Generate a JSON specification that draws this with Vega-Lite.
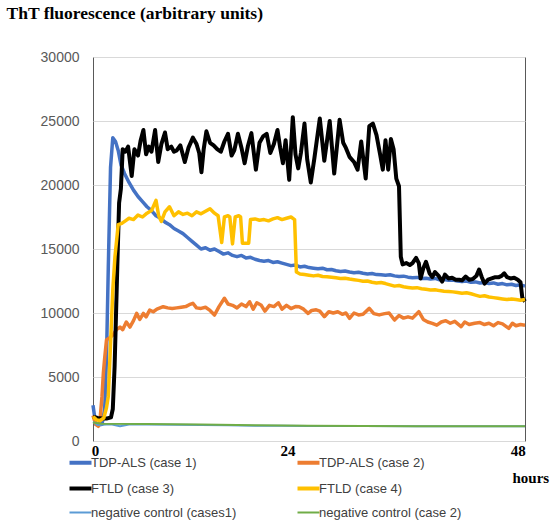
{
  "$schema": "https://vega.github.io/schema/vega-lite/v6.json",
  "width": 432,
  "height": 384,
  "autosize": "none",
  "padding": {"left": 93, "top": 57, "right": 25, "bottom": 90},
  "background": "white",
  "config": {
    "view": {"stroke": "#595959", "strokeWidth": 1},
    "legend": {
      "orient": "none",
      "direction": "horizontal",
      "legendX": -19,
      "legendY": 399,
      "columns": 2,
      "columnPadding": 52,
      "rowPadding": 9,
      "padding": 0,
      "symbolType": "stroke",
      "symbolSize": 484,
      "symbolStrokeWidth": 4,
      "labelFont": "Liberation Sans",
      "labelFontSize": 13,
      "labelColor": "#404040",
      "labelOffset": 4,
      "labelLimit": 300
    }
  },
  "encoding": {
    "x": {
      "field": "t",
      "type": "quantitative",
      "scale": {"domain": [0, 48], "nice": false, "zero": false},
      "axis": {
        "values": [0.22, 21.6, 47.2],
        "labelExpr": "datum.value < 10 ? '0' : datum.value < 30 ? '24' : '48'",
        "grid": false,
        "domain": false,
        "ticks": false,
        "labelFlush": false,
        "labelPadding": 2,
        "labelFont": "Liberation Serif",
        "labelFontWeight": "bold",
        "labelFontSize": 15,
        "labelColor": "black",
        "title": "hours",
        "titleFont": "Liberation Serif",
        "titleFontWeight": "bold",
        "titleFontSize": 15,
        "titleColor": "black",
        "titleX": 419,
        "titleY": 36,
        "titleAlign": "left",
        "titleBaseline": "middle"
      }
    },
    "y": {
      "field": "v",
      "type": "quantitative",
      "scale": {"domain": [0, 30000], "nice": false},
      "axis": {
        "values": [0, 5000, 10000, 15000, 20000, 25000, 30000],
        "format": "d",
        "grid": true,
        "gridColor": "#D9D9D9",
        "gridWidth": 1,
        "domain": false,
        "ticks": false,
        "labelPadding": 14,
        "labelFont": "Liberation Sans",
        "labelFontSize": 14,
        "labelColor": "#595959",
        "title": "ThT fluorescence (arbitrary units)",
        "titleFont": "Liberation Serif",
        "titleFontWeight": "bold",
        "titleFontSize": 17.5,
        "titleColor": "black",
        "titleAngle": 0,
        "titleX": -87,
        "titleY": -44,
        "titleAlign": "left",
        "titleBaseline": "middle"
      }
    }
  },
  "layer": [
    {
      "data": {"values": [
        {"t":0,"v":2800},{"t":0.3,"v":1300},{"t":0.6,"v":1250},{"t":1.0,"v":1300},{"t":1.3,"v":2500},{"t":1.5,"v":6500},{"t":1.7,"v":13600},{"t":1.95,"v":21400},{"t":2.2,"v":23700},{"t":2.5,"v":23400},{"t":2.8,"v":22700},{"t":3.1,"v":21600},{"t":3.5,"v":20900},{"t":4.0,"v":20200},{"t":4.5,"v":19600},{"t":5.0,"v":19100},{"t":5.5,"v":18700},{"t":6.0,"v":18300},{"t":6.5,"v":18000},{"t":7.0,"v":17600},{"t":7.5,"v":17400},{"t":8.0,"v":17100},{"t":8.5,"v":16900},{"t":9.0,"v":16600},{"t":9.5,"v":16400},{"t":10.0,"v":16200},{"t":10.5,"v":15900},{"t":11.0,"v":15600},{"t":11.5,"v":15300},{"t":12.0,"v":15000},{"t":12.5,"v":15100},{"t":13.0,"v":14900},{"t":13.5,"v":15000},{"t":14.0,"v":14800},{"t":14.5,"v":14600},{"t":15.0,"v":14700},{"t":15.5,"v":14500},{"t":16.0,"v":14400},{"t":16.5,"v":14500},{"t":17.0,"v":14300},{"t":17.5,"v":14350},{"t":18.0,"v":14200},{"t":18.5,"v":14100},{"t":19.0,"v":14050},{"t":19.5,"v":14100},{"t":20.0,"v":13950},{"t":20.5,"v":14000},{"t":21.0,"v":13900},{"t":21.5,"v":13800},{"t":22.0,"v":13700},{"t":22.5,"v":13750},{"t":23.0,"v":13600},{"t":23.5,"v":13650},{"t":24.0,"v":13550},{"t":24.5,"v":13500},{"t":25.0,"v":13450},{"t":25.5,"v":13500},{"t":26.0,"v":13380},{"t":26.5,"v":13400},{"t":27.0,"v":13300},{"t":27.5,"v":13250},{"t":28.0,"v":13280},{"t":28.5,"v":13200},{"t":29.0,"v":13150},{"t":29.5,"v":13180},{"t":30.0,"v":13100},{"t":30.5,"v":13050},{"t":31.0,"v":13080},{"t":31.5,"v":13000},{"t":32.0,"v":12980},{"t":32.5,"v":12950},{"t":33.0,"v":12990},{"t":33.5,"v":12900},{"t":34.0,"v":12850},{"t":34.5,"v":12880},{"t":35.0,"v":12800},{"t":35.5,"v":12750},{"t":36.0,"v":12780},{"t":36.5,"v":12700},{"t":37.0,"v":12720},{"t":37.5,"v":12650},{"t":38.0,"v":12700},{"t":38.5,"v":12600},{"t":39.0,"v":12620},{"t":39.5,"v":12550},{"t":40.0,"v":12580},{"t":40.5,"v":12500},{"t":41.0,"v":12450},{"t":41.5,"v":12500},{"t":42.0,"v":12400},{"t":42.5,"v":12430},{"t":43.0,"v":12350},{"t":43.5,"v":12380},{"t":44.0,"v":12300},{"t":44.5,"v":12350},{"t":45.0,"v":12250},{"t":45.5,"v":12300},{"t":46.0,"v":12200},{"t":46.5,"v":12250},{"t":47.0,"v":12150},{"t":47.5,"v":12200},{"t":48.0,"v":12100}
      ]},
      "mark": {"type": "line", "strokeWidth": 3.5, "strokeJoin": "round"},
      "encoding": {
        "color": {
          "datum": "TDP-ALS (case 1)",
          "type": "nominal",
          "scale": {
            "domain": ["TDP-ALS (case 1)", "TDP-ALS (case 2)", "FTLD (case 3)", "FTLD (case 4)", "negative control (cases1)", "negative control (case 2)"],
            "range": ["#4472C4", "#ED7D31", "#000000", "#FFC000", "#5B9BD5", "#70AD47"]
          },
          "legend": {
            "title": null,
            "encode": {"symbols": {"update": {"strokeWidth": {"signal": "datum.index >= 4 ? 2 : 4"}}}}
          }
        }
      }
    },
    {
      "data": {"values": [
        {"t":0,"v":2000},{"t":0.3,"v":1300},{"t":0.6,"v":1150},{"t":0.8,"v":1800},{"t":1.0,"v":3500},{"t":1.15,"v":5300},{"t":1.3,"v":6500},{"t":1.5,"v":7900},{"t":1.9,"v":8100},{"t":2.25,"v":8300},{"t":2.6,"v":8700},{"t":3.0,"v":8900},{"t":3.3,"v":8700},{"t":3.7,"v":9300},{"t":4.1,"v":8900},{"t":4.5,"v":9400},{"t":4.85,"v":9970},{"t":5.2,"v":9500},{"t":5.6,"v":9970},{"t":5.9,"v":9700},{"t":6.3,"v":10230},{"t":6.7,"v":10100},{"t":7.1,"v":10300},{"t":7.8,"v":10490},{"t":8.3,"v":10400},{"t":8.8,"v":10350},{"t":9.3,"v":10400},{"t":9.8,"v":10450},{"t":10.3,"v":10500},{"t":10.7,"v":10650},{"t":11.1,"v":10760},{"t":11.5,"v":10400},{"t":12.0,"v":10360},{"t":12.5,"v":10450},{"t":13.0,"v":10200},{"t":13.5,"v":9840},{"t":14.0,"v":10500},{"t":14.6,"v":11150},{"t":15.0,"v":10700},{"t":15.5,"v":10600},{"t":16.0,"v":10400},{"t":16.5,"v":10700},{"t":17.0,"v":10500},{"t":17.4,"v":10880},{"t":17.8,"v":10300},{"t":18.2,"v":10800},{"t":18.7,"v":10600},{"t":19.1,"v":10150},{"t":19.6,"v":10600},{"t":20.1,"v":10500},{"t":20.6,"v":10800},{"t":21.0,"v":10300},{"t":21.5,"v":10600},{"t":22.0,"v":10350},{"t":22.5,"v":10500},{"t":22.9,"v":10490},{"t":23.4,"v":10300},{"t":23.9,"v":9970},{"t":24.3,"v":10200},{"t":24.8,"v":10250},{"t":25.2,"v":10150},{"t":25.7,"v":9710},{"t":26.2,"v":10100},{"t":26.7,"v":10000},{"t":27.2,"v":10100},{"t":27.7,"v":9900},{"t":28.1,"v":10000},{"t":28.5,"v":9580},{"t":29.0,"v":10000},{"t":29.5,"v":9850},{"t":30.0,"v":9900},{"t":30.7,"v":10360},{"t":31.2,"v":9950},{"t":31.8,"v":9850},{"t":32.4,"v":9950},{"t":32.9,"v":10000},{"t":33.5,"v":9450},{"t":34.0,"v":9800},{"t":34.5,"v":9600},{"t":35.0,"v":9700},{"t":35.5,"v":9600},{"t":36.2,"v":10100},{"t":36.7,"v":9500},{"t":37.2,"v":9300},{"t":37.7,"v":9190},{"t":38.2,"v":9050},{"t":38.7,"v":9300},{"t":39.2,"v":9400},{"t":39.7,"v":9200},{"t":40.2,"v":9350},{"t":40.9,"v":8930},{"t":41.3,"v":9300},{"t":41.8,"v":9100},{"t":42.4,"v":9200},{"t":43.0,"v":9250},{"t":43.5,"v":9100},{"t":44.0,"v":9200},{"t":44.5,"v":9000},{"t":45.0,"v":9250},{"t":45.5,"v":9150},{"t":46.2,"v":8800},{"t":46.6,"v":9200},{"t":47.0,"v":9000},{"t":47.5,"v":9100},{"t":48.0,"v":9050}
      ]},
      "mark": {"type": "line", "strokeWidth": 3.5, "strokeJoin": "round"},
      "encoding": {"color": {"datum": "TDP-ALS (case 2)", "type": "nominal"}}
    },
    {
      "data": {"values": [
        {"t":0,"v":1900},{"t":0.5,"v":1800},{"t":1.0,"v":1750},{"t":1.5,"v":1750},{"t":2.0,"v":1850},{"t":2.2,"v":2500},{"t":2.4,"v":5800},{"t":2.7,"v":13600},{"t":2.9,"v":18600},{"t":3.1,"v":19700},{"t":3.3,"v":22800},{"t":3.6,"v":22600},{"t":3.9,"v":23000},{"t":4.3,"v":20700},{"t":4.6,"v":22800},{"t":5.0,"v":22300},{"t":5.3,"v":23500},{"t":5.6,"v":24300},{"t":5.9,"v":22400},{"t":6.2,"v":23000},{"t":6.5,"v":22600},{"t":6.9,"v":24300},{"t":7.25,"v":21800},{"t":7.6,"v":23200},{"t":8.0,"v":24100},{"t":8.3,"v":22800},{"t":8.7,"v":23000},{"t":9.0,"v":22600},{"t":9.3,"v":22700},{"t":9.7,"v":23100},{"t":10.2,"v":21800},{"t":10.6,"v":22900},{"t":11.1,"v":23700},{"t":11.5,"v":23200},{"t":11.8,"v":22500},{"t":12.05,"v":21000},{"t":12.3,"v":22800},{"t":12.6,"v":24200},{"t":13.0,"v":23300},{"t":13.4,"v":23100},{"t":13.8,"v":22800},{"t":14.2,"v":22600},{"t":14.6,"v":23400},{"t":15.0,"v":24000},{"t":15.4,"v":22300},{"t":15.7,"v":22700},{"t":16.1,"v":24000},{"t":16.5,"v":22900},{"t":16.85,"v":21700},{"t":17.2,"v":23000},{"t":17.6,"v":24050},{"t":18.1,"v":21200},{"t":18.5,"v":23300},{"t":18.9,"v":23800},{"t":19.3,"v":24000},{"t":19.7,"v":22500},{"t":20.1,"v":23200},{"t":20.5,"v":24300},{"t":20.8,"v":22900},{"t":21.1,"v":21700},{"t":21.4,"v":23500},{"t":21.8,"v":20400},{"t":22.2,"v":25300},{"t":22.5,"v":22400},{"t":22.8,"v":21300},{"t":23.1,"v":22500},{"t":23.5,"v":24800},{"t":23.8,"v":22000},{"t":24.2,"v":20200},{"t":24.6,"v":22100},{"t":25.2,"v":25200},{"t":25.7,"v":21900},{"t":26.3,"v":25000},{"t":26.8,"v":20900},{"t":27.4,"v":25100},{"t":27.8,"v":23300},{"t":28.1,"v":22900},{"t":28.5,"v":22200},{"t":29.0,"v":21800},{"t":29.4,"v":21200},{"t":29.8,"v":23400},{"t":30.3,"v":20500},{"t":30.7,"v":24600},{"t":31.1,"v":24800},{"t":31.5,"v":23900},{"t":31.9,"v":22400},{"t":32.2,"v":21200},{"t":32.5,"v":23500},{"t":32.8,"v":21200},{"t":33.1,"v":23600},{"t":33.4,"v":22800},{"t":33.7,"v":20500},{"t":34.0,"v":19900},{"t":34.2,"v":14400},{"t":34.4,"v":13800},{"t":34.8,"v":13900},{"t":35.2,"v":13750},{"t":35.5,"v":13900},{"t":35.9,"v":14300},{"t":36.2,"v":13900},{"t":36.4,"v":12700},{"t":36.7,"v":13500},{"t":37.0,"v":14000},{"t":37.4,"v":13100},{"t":37.7,"v":12800},{"t":38.0,"v":13200},{"t":38.4,"v":12900},{"t":38.8,"v":12450},{"t":39.1,"v":13000},{"t":39.5,"v":12700},{"t":39.9,"v":12750},{"t":40.3,"v":12600},{"t":40.7,"v":12600},{"t":41.0,"v":12550},{"t":41.4,"v":12850},{"t":41.8,"v":12600},{"t":42.2,"v":12650},{"t":42.6,"v":12900},{"t":42.9,"v":13400},{"t":43.2,"v":12800},{"t":43.5,"v":12300},{"t":43.9,"v":12600},{"t":44.3,"v":12700},{"t":44.7,"v":12800},{"t":45.1,"v":12800},{"t":45.4,"v":12900},{"t":45.7,"v":13100},{"t":46.0,"v":12800},{"t":46.4,"v":12700},{"t":46.8,"v":12750},{"t":47.2,"v":12600},{"t":47.5,"v":12400},{"t":47.7,"v":11200},{"t":48.0,"v":10900}
      ]},
      "mark": {"type": "line", "strokeWidth": 4, "strokeJoin": "round"},
      "encoding": {"color": {"datum": "FTLD (case 3)", "type": "nominal"}}
    },
    {
      "data": {"values": [
        {"t":0,"v":1900},{"t":0.4,"v":1650},{"t":0.8,"v":1600},{"t":1.2,"v":1800},{"t":1.5,"v":2600},{"t":1.7,"v":3500},{"t":2.0,"v":8400},{"t":2.2,"v":11800},{"t":2.44,"v":14400},{"t":2.8,"v":16900},{"t":3.2,"v":17000},{"t":3.6,"v":17200},{"t":4.0,"v":17400},{"t":4.5,"v":17300},{"t":5.0,"v":17650},{"t":5.5,"v":17500},{"t":6.0,"v":17800},{"t":6.5,"v":18000},{"t":7.0,"v":18800},{"t":7.3,"v":17600},{"t":7.6,"v":17150},{"t":8.0,"v":17900},{"t":8.5,"v":18300},{"t":9.0,"v":17600},{"t":9.5,"v":17900},{"t":10.0,"v":17700},{"t":10.5,"v":17800},{"t":11.0,"v":17600},{"t":11.5,"v":17900},{"t":12.0,"v":17750},{"t":12.5,"v":17950},{"t":13.0,"v":18150},{"t":13.5,"v":17800},{"t":13.9,"v":17600},{"t":14.3,"v":15500},{"t":14.6,"v":17500},{"t":15.0,"v":17600},{"t":15.2,"v":17500},{"t":15.5,"v":15400},{"t":15.8,"v":17500},{"t":16.2,"v":17600},{"t":16.4,"v":17500},{"t":16.6,"v":15450},{"t":17.3,"v":15450},{"t":17.5,"v":17300},{"t":18.0,"v":17350},{"t":18.5,"v":17250},{"t":19.0,"v":17300},{"t":19.5,"v":17200},{"t":20.0,"v":17350},{"t":20.5,"v":17450},{"t":21.0,"v":17300},{"t":21.5,"v":17400},{"t":22.0,"v":17500},{"t":22.4,"v":17300},{"t":22.6,"v":13200},{"t":23.0,"v":13050},{"t":23.5,"v":13000},{"t":24.0,"v":12950},{"t":24.5,"v":12900},{"t":25.0,"v":12950},{"t":25.5,"v":12850},{"t":26.0,"v":12840},{"t":26.5,"v":12800},{"t":27.0,"v":12750},{"t":27.5,"v":12700},{"t":28.0,"v":12720},{"t":28.5,"v":12650},{"t":29.0,"v":12600},{"t":29.5,"v":12550},{"t":30.0,"v":12480},{"t":30.5,"v":12500},{"t":31.0,"v":12400},{"t":31.5,"v":12350},{"t":32.0,"v":12380},{"t":32.5,"v":12300},{"t":33.0,"v":12200},{"t":33.5,"v":12100},{"t":34.0,"v":12150},{"t":34.5,"v":12050},{"t":35.0,"v":12000},{"t":35.5,"v":11950},{"t":36.0,"v":11980},{"t":36.5,"v":11900},{"t":37.0,"v":11850},{"t":37.5,"v":11800},{"t":38.0,"v":11820},{"t":38.5,"v":11750},{"t":39.0,"v":11700},{"t":39.5,"v":11680},{"t":40.0,"v":11650},{"t":40.5,"v":11600},{"t":41.0,"v":11550},{"t":41.5,"v":11580},{"t":42.0,"v":11500},{"t":42.5,"v":11400},{"t":43.0,"v":11300},{"t":43.5,"v":11350},{"t":44.0,"v":11250},{"t":44.5,"v":11200},{"t":45.0,"v":11150},{"t":45.5,"v":11100},{"t":46.0,"v":11050},{"t":46.5,"v":11100},{"t":47.0,"v":11050},{"t":47.5,"v":11000},{"t":48.0,"v":11050}
      ]},
      "mark": {"type": "line", "strokeWidth": 3.5, "strokeJoin": "round"},
      "encoding": {"color": {"datum": "FTLD (case 4)", "type": "nominal"}}
    },
    {
      "data": {"values": [
        {"t":0,"v":1500},{"t":0.5,"v":1250},{"t":2,"v":1300},{"t":3,"v":1150},{"t":4,"v":1290},{"t":6,"v":1280},{"t":9,"v":1260},{"t":12,"v":1250},{"t":15,"v":1230},{"t":18,"v":1200},{"t":21,"v":1190},{"t":24,"v":1180},{"t":30,"v":1170},{"t":36,"v":1160},{"t":42,"v":1150},{"t":48,"v":1150}
      ]},
      "mark": {"type": "line", "strokeWidth": 2, "strokeJoin": "round"},
      "encoding": {"color": {"datum": "negative control (cases1)", "type": "nominal"}}
    },
    {
      "data": {"values": [
        {"t":0,"v":1450},{"t":1,"v":1350},{"t":6,"v":1320},{"t":12,"v":1280},{"t":18,"v":1240},{"t":24,"v":1200},{"t":30,"v":1180},{"t":36,"v":1160},{"t":42,"v":1150},{"t":48,"v":1150}
      ]},
      "mark": {"type": "line", "strokeWidth": 2, "strokeJoin": "round"},
      "encoding": {"color": {"datum": "negative control (case 2)", "type": "nominal"}}
    }
  ]
}
